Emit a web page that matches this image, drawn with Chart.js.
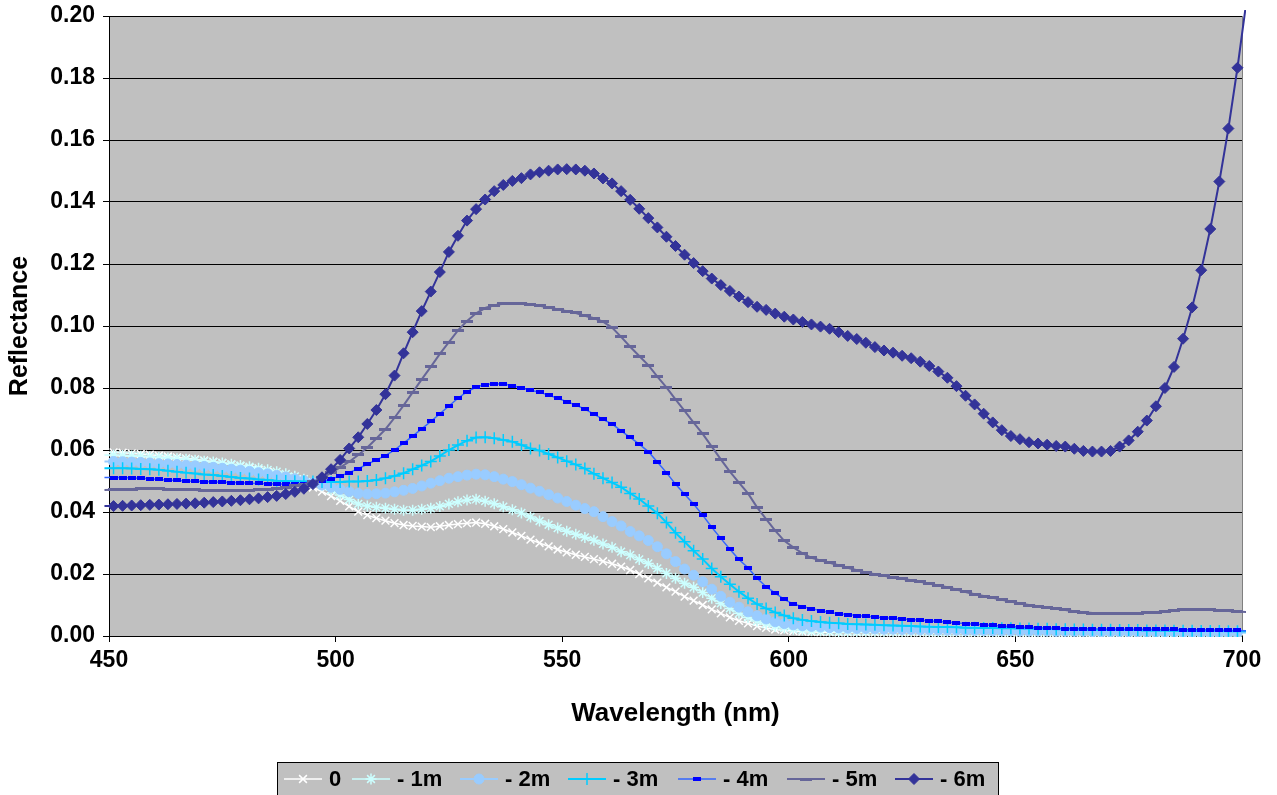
<!DOCTYPE html>
<html>
<head>
<meta charset="utf-8">
<title>Reflectance by depth</title>
<script src="https://cdn.jsdelivr.net/npm/chart.js@4.4.1/dist/chart.umd.min.js"></script>
<style>
  html, body { margin: 0; padding: 0; background: #fff; }
  #wrap { width: 1277px; height: 795px; }
</style>
</head>
<body>
<div id="wrap"><canvas id="chart" width="1277" height="795"></canvas></div>
<script>
// wavelength samples (nm), every 2 nm; the end points sit just outside the axis
const wavelengths = [
  449, 451, 453, 455, 457, 459, 461, 463, 465, 467,
  469, 471, 473, 475, 477, 479, 481, 483, 485, 487,
  489, 491, 493, 495, 497, 499, 501, 503, 505, 507,
  509, 511, 513, 515, 517, 519, 521, 523, 525, 527,
  529, 531, 533, 535, 537, 539, 541, 543, 545, 547,
  549, 551, 553, 555, 557, 559, 561, 563, 565, 567,
  569, 571, 573, 575, 577, 579, 581, 583, 585, 587,
  589, 591, 593, 595, 597, 599, 601, 603, 605, 607,
  609, 611, 613, 615, 617, 619, 621, 623, 625, 627,
  629, 631, 633, 635, 637, 639, 641, 643, 645, 647,
  649, 651, 653, 655, 657, 659, 661, 663, 665, 667,
  669, 671, 673, 675, 677, 679, 681, 683, 685, 687,
  689, 691, 693, 695, 697, 699, 701
];

const seriesNames = ['0', '- 1m', '- 2m', '- 3m', '- 4m', '- 5m', '- 6m'];

const xTickValues = [450, 500, 550, 600, 650, 700];
const yTickValues = [0, 0.02, 0.04, 0.06, 0.08, 0.10, 0.12, 0.14, 0.16, 0.18, 0.20];

const refl0 = [
  0.0593,
  0.0592, 0.0591, 0.0589, 0.0587, 0.0585, 0.0582, 0.0579, 0.0576, 0.0573, 0.0570,
  0.0566, 0.0562, 0.0558, 0.0553, 0.0548, 0.0542, 0.0536, 0.0529, 0.0521, 0.0512,
  0.0502, 0.0491, 0.0479, 0.0466, 0.0451, 0.0436,
  0.0418, 0.0401, 0.0390, 0.0380, 0.0372, 0.0364, 0.0358, 0.0355, 0.0353, 0.0351,
  0.0354, 0.0358, 0.0361, 0.0364, 0.0366, 0.0362, 0.0354, 0.0345, 0.0334, 0.0323,
  0.0311, 0.0300, 0.0289, 0.0279, 0.0270, 0.0262, 0.0255, 0.0248, 0.0241, 0.0233,
  0.0224, 0.0213, 0.0200, 0.0186, 0.0172, 0.0157, 0.0143, 0.0127, 0.0114, 0.0100,
  0.0086, 0.0073, 0.0060, 0.0049, 0.0041, 0.0032, 0.0026, 0.0021, 0.0018, 0.0016,
  0.0014, 0.0013, 0.0012, 0.0012,
  0.0011, 0.0011, 0.0011, 0.0011, 0.0011, 0.0011, 0.0011, 0.0011, 0.0011, 0.0011,
  0.0010, 0.0010, 0.0010, 0.0010, 0.0010, 0.0010, 0.0010, 0.0010, 0.0010, 0.0010,
  0.0009, 0.0009, 0.0009, 0.0009, 0.0009, 0.0009, 0.0009, 0.0009,
  0.0008, 0.0008, 0.0008, 0.0008, 0.0008, 0.0008, 0.0008, 0.0008,
  0.0007, 0.0007, 0.0007, 0.0007, 0.0007,
  0.0006, 0.0006, 0.0006, 0.0006, 0.0006
];

const refl1m = [
  0.0584,
  0.0583, 0.0582, 0.0581, 0.0580, 0.0578, 0.0576, 0.0574, 0.0572, 0.0570, 0.0567,
  0.0564, 0.0561, 0.0558, 0.0554, 0.0550, 0.0546, 0.0541, 0.0536, 0.0530, 0.0523,
  0.0515, 0.0506, 0.0496, 0.0485, 0.0471, 0.0455,
  0.0440, 0.0426, 0.0419, 0.0415, 0.0412, 0.0409, 0.0406, 0.0406, 0.0409, 0.0412,
  0.0418, 0.0426, 0.0433, 0.0439, 0.0441, 0.0435, 0.0427, 0.0417, 0.0407, 0.0397,
  0.0384, 0.0371, 0.0359, 0.0348, 0.0338, 0.0328, 0.0318, 0.0309, 0.0297, 0.0286,
  0.0272, 0.0261, 0.0247, 0.0234, 0.0218, 0.0202, 0.0186, 0.0170, 0.0157, 0.0140,
  0.0122, 0.0105, 0.0089, 0.0073, 0.0060, 0.0048, 0.0039, 0.0031, 0.0026, 0.0022,
  0.0019, 0.0017, 0.0016, 0.0015,
  0.0014, 0.0014, 0.0014, 0.0014, 0.0014, 0.0014, 0.0014, 0.0014, 0.0014, 0.0014,
  0.0013, 0.0013, 0.0013, 0.0013, 0.0013, 0.0013, 0.0013, 0.0013,
  0.0012, 0.0012, 0.0012, 0.0012, 0.0012, 0.0012, 0.0012, 0.0012,
  0.0011, 0.0011, 0.0011, 0.0011, 0.0011, 0.0011, 0.0011, 0.0011,
  0.0010, 0.0010, 0.0010, 0.0010, 0.0010, 0.0010,
  0.0009, 0.0009, 0.0009, 0.0009, 0.0009, 0.0009
];

const refl2m = [
  0.0563,
  0.0563, 0.0562, 0.0561, 0.0560, 0.0558, 0.0556, 0.0555, 0.0553, 0.0551, 0.0549,
  0.0547, 0.0544, 0.0541, 0.0538, 0.0535, 0.0531, 0.0527, 0.0523, 0.0518, 0.0513,
  0.0507, 0.0501, 0.0494, 0.0487, 0.0480, 0.0473,
  0.0466, 0.0460, 0.0458, 0.0459, 0.0461, 0.0465, 0.0470, 0.0476, 0.0484, 0.0493,
  0.0501, 0.0509, 0.0514, 0.0519, 0.0522, 0.0520, 0.0514, 0.0506, 0.0498, 0.0488,
  0.0477, 0.0467, 0.0456, 0.0445, 0.0434, 0.0422, 0.0411, 0.0401, 0.0385, 0.0369,
  0.0355, 0.0337, 0.0323, 0.0308, 0.0288, 0.0265, 0.0240, 0.0216, 0.0196, 0.0175,
  0.0151, 0.0128, 0.0109, 0.0093, 0.0078, 0.0065, 0.0055, 0.0046, 0.0040, 0.0036,
  0.0033, 0.0031, 0.0029, 0.0027,
  0.0026, 0.0025, 0.0024, 0.0024, 0.0023, 0.0022, 0.0022, 0.0021, 0.0021, 0.0020,
  0.0020, 0.0019, 0.0019, 0.0019, 0.0018, 0.0018, 0.0018, 0.0017, 0.0017, 0.0017,
  0.0016, 0.0016, 0.0016, 0.0016, 0.0015, 0.0015, 0.0015, 0.0015, 0.0014, 0.0014,
  0.0014, 0.0014, 0.0014, 0.0013, 0.0013, 0.0013, 0.0013, 0.0013, 0.0012, 0.0012,
  0.0012, 0.0012, 0.0012, 0.0012, 0.0012, 0.0011
];

const refl3m = [
  0.0541,
  0.0541, 0.0541, 0.0540, 0.0539, 0.0538, 0.0536, 0.0533, 0.0530, 0.0527, 0.0524,
  0.0521, 0.0519, 0.0516, 0.0513, 0.0510, 0.0508, 0.0505, 0.0503, 0.0501, 0.0500,
  0.0499, 0.0498, 0.0498, 0.0497, 0.0497, 0.0497,
  0.0498, 0.0498, 0.0500, 0.0503, 0.0509, 0.0516, 0.0525, 0.0538, 0.0550, 0.0563,
  0.0581, 0.0600, 0.0616, 0.0630, 0.0640, 0.0641, 0.0638, 0.0632, 0.0627, 0.0616,
  0.0605, 0.0598, 0.0587, 0.0576, 0.0564, 0.0553, 0.0540, 0.0523, 0.0509, 0.0495,
  0.0480, 0.0460, 0.0442, 0.0419, 0.0396, 0.0366, 0.0333, 0.0304, 0.0275, 0.0248,
  0.0218, 0.0191, 0.0167, 0.0143, 0.0122, 0.0103, 0.0089, 0.0076, 0.0066, 0.0057,
  0.0052, 0.0048, 0.0045, 0.0043,
  0.0041, 0.0039, 0.0038, 0.0037, 0.0036, 0.0035, 0.0034, 0.0033, 0.0032, 0.0031,
  0.0030, 0.0029, 0.0029, 0.0028, 0.0027, 0.0027, 0.0026, 0.0026, 0.0025, 0.0025,
  0.0024, 0.0024, 0.0023, 0.0023, 0.0022, 0.0022, 0.0021, 0.0021, 0.0020, 0.0020,
  0.0020, 0.0019, 0.0019, 0.0019, 0.0018, 0.0018, 0.0018, 0.0017, 0.0017, 0.0017,
  0.0016, 0.0016, 0.0016, 0.0015, 0.0015, 0.0015
];

const refl4m = [
  0.0511,
  0.0511, 0.0511, 0.0510, 0.0509, 0.0507, 0.0505, 0.0503, 0.0502, 0.0500, 0.0499,
  0.0498, 0.0497, 0.0496, 0.0495, 0.0494, 0.0493, 0.0492, 0.0491, 0.0490, 0.0490,
  0.0490, 0.0491, 0.0494, 0.0499, 0.0506, 0.0516,
  0.0527, 0.0540, 0.0554, 0.0568, 0.0582, 0.0600, 0.0622, 0.0645, 0.0668, 0.0692,
  0.0717, 0.0742, 0.0767, 0.0788, 0.0803, 0.0811, 0.0814, 0.0813, 0.0808, 0.0800,
  0.0793, 0.0786, 0.0777, 0.0767, 0.0756, 0.0745, 0.0732, 0.0716, 0.0699, 0.0684,
  0.0662, 0.0641, 0.0619, 0.0595, 0.0561, 0.0527, 0.0490, 0.0457, 0.0426, 0.0390,
  0.0351, 0.0315, 0.0280, 0.0247, 0.0220, 0.0186, 0.0159, 0.0138, 0.0118, 0.0103,
  0.0095, 0.0088, 0.0082, 0.0076,
  0.0072, 0.0069, 0.0066, 0.0064, 0.0061, 0.0059, 0.0057, 0.0055, 0.0053, 0.0051,
  0.0049, 0.0047, 0.0045, 0.0042, 0.0040, 0.0038, 0.0036, 0.0034, 0.0032, 0.0031,
  0.0029, 0.0028, 0.0027, 0.0026, 0.0025, 0.0024, 0.0024, 0.0023, 0.0023, 0.0022,
  0.0022, 0.0022, 0.0022, 0.0022, 0.0022, 0.0021, 0.0021, 0.0021, 0.0020, 0.0020,
  0.0020, 0.0019, 0.0019, 0.0018, 0.0018, 0.0017
];

const refl5m = [
  0.0471,
  0.0472, 0.0473, 0.0474, 0.0475, 0.0475, 0.0475, 0.0474, 0.0473, 0.0472, 0.0471,
  0.0470, 0.0470, 0.0469, 0.0469, 0.0469, 0.0470, 0.0471, 0.0473, 0.0476, 0.0479,
  0.0484, 0.0490, 0.0498, 0.0510, 0.0526, 0.0544,
  0.0562, 0.0584, 0.0608, 0.0637, 0.0667, 0.0704, 0.0744, 0.0786, 0.0828, 0.0868,
  0.0910, 0.0948, 0.0986, 0.1016, 0.1041, 0.1058, 0.1067, 0.1072, 0.1074, 0.1073,
  0.1070, 0.1065, 0.1060, 0.1054, 0.1048, 0.1042, 0.1033, 0.1025, 0.1014, 0.0995,
  0.0965, 0.0933, 0.0903, 0.0874, 0.0837, 0.0802, 0.0763, 0.0726, 0.0688, 0.0652,
  0.0611, 0.0570, 0.0530, 0.0495, 0.0460, 0.0415, 0.0377, 0.0340, 0.0307, 0.0286,
  0.0267, 0.0252, 0.0244, 0.0236,
  0.0228, 0.0220, 0.0212, 0.0205, 0.0199, 0.0194, 0.0189, 0.0185, 0.0180, 0.0175,
  0.0169, 0.0163, 0.0157, 0.0150, 0.0142, 0.0135, 0.0129, 0.0123, 0.0117, 0.0111,
  0.0105, 0.0100, 0.0096, 0.0092, 0.0088, 0.0084, 0.0080, 0.0077, 0.0074, 0.0072,
  0.0071, 0.0071, 0.0072, 0.0073, 0.0075, 0.0077, 0.0080, 0.0083, 0.0085, 0.0086,
  0.0086, 0.0085, 0.0083, 0.0081, 0.0079, 0.0077
];

const refl6m = [
  0.0419,
  0.0419, 0.0420, 0.0421, 0.0422, 0.0423, 0.0424, 0.0425, 0.0426, 0.0427, 0.0428,
  0.0430, 0.0432, 0.0434, 0.0436, 0.0438, 0.0441, 0.0444, 0.0448, 0.0452, 0.0458,
  0.0465, 0.0475, 0.0490, 0.0512, 0.0538, 0.0568,
  0.0605, 0.0641, 0.0684, 0.0729, 0.0780, 0.0840, 0.0912, 0.0980, 0.1048, 0.1111,
  0.1174, 0.1239, 0.1291, 0.1340, 0.1377, 0.1408, 0.1435, 0.1455, 0.1468, 0.1477,
  0.1489, 0.1496, 0.1501, 0.1505, 0.1506, 0.1505, 0.1501, 0.1492, 0.1476, 0.1460,
  0.1435,
  0.1407, 0.1378, 0.1348, 0.1318, 0.1288, 0.1258, 0.1230, 0.1203,
  0.1177, 0.1153, 0.1132, 0.1113, 0.1095, 0.1077, 0.1062, 0.1052, 0.1040, 0.1030,
  0.1021, 0.1013, 0.1005, 0.0998, 0.0991, 0.0980, 0.0968, 0.0958, 0.0946, 0.0932,
  0.0921, 0.0914, 0.0904, 0.0896, 0.0885, 0.0871, 0.0853, 0.0833, 0.0806, 0.0775,
  0.0747, 0.0717, 0.0689,
  0.0664, 0.0645, 0.0635, 0.0625, 0.0621, 0.0617, 0.0613, 0.0611, 0.0604, 0.0597,
  0.0595, 0.0595, 0.0597, 0.0611, 0.0631, 0.0659, 0.0695, 0.0741, 0.0800, 0.0868,
  0.0959, 0.1060, 0.1180, 0.1313, 0.1466, 0.1637, 0.1833,
  0.2050
];

const allSeries = [refl0, refl1m, refl2m, refl3m, refl4m, refl5m, refl6m];
allSeries.forEach((arr, i) => {
  if (arr.length !== wavelengths.length) {
    throw new Error('series ' + seriesNames[i] + ' has ' + arr.length + ' values, expected ' + wavelengths.length);
  }
});

// small bitmap markers for the two "dash" styles Excel uses
function dashMarker(w, h, color) {
  const c = document.createElement('canvas');
  c.width = w;
  c.height = h;
  const g = c.getContext('2d');
  g.fillStyle = color;
  g.fillRect(0, 0, w, h);
  return c;
}

const FONT = '"Liberation Sans", Arial, sans-serif';

const styles = [
  { line: '#ffffff', width: 1.5, marker: 'crossRot', fill: '#ffffff', edge: '#ffffff', radius: 5.5, edgeWidth: 1.5 },
  { line: '#ccffff', width: 1.5, marker: 'star', fill: '#ccffff', edge: '#ccffff', radius: 5.5, edgeWidth: 1.5 },
  { line: '#99ccff', width: 2, marker: 'circle', fill: '#99ccff', edge: '#99ccff', radius: 5, edgeWidth: 1 },
  { line: '#00ccff', width: 2, marker: 'cross', fill: '#00ccff', edge: '#00ccff', radius: 6, edgeWidth: 1.5 },
  { line: '#3366ff', width: 1.5, marker: dashMarker(8, 4, '#0000ff'), fill: '#0000ff', edge: '#0000ff', radius: 4, edgeWidth: 1 },
  { line: '#666699', width: 2, marker: dashMarker(12, 3, '#666699'), fill: '#666699', edge: '#666699', radius: 5, edgeWidth: 1 },
  { line: '#333399', width: 2, marker: 'rectRot', fill: '#333399', edge: '#333399', radius: 5.5, edgeWidth: 1 }
];

const datasets = allSeries.map((vals, i) => {
  const st = styles[i];
  return {
    label: seriesNames[i],
    data: wavelengths.map((w, k) => ({ x: w, y: vals[k] })),
    borderColor: st.line,
    borderWidth: st.width,
    tension: 0,
    pointStyle: st.marker,
    pointBackgroundColor: st.fill,
    pointBorderColor: st.edge,
    pointBorderWidth: st.edgeWidth,
    // no marker on the samples that fall outside 450-700
    pointRadius: ctx => (ctx.raw && (ctx.raw.x < 450 || ctx.raw.x > 700)) ? 0 : st.radius,
    pointHoverRadius: st.radius,
    clip: { left: 6, top: 6, right: 4, bottom: 1 },
    order: 6 - i
  };
});

const plotBg = {
  id: 'plotBg',
  beforeDraw(chart) {
    const { ctx, chartArea: a } = chart;
    ctx.save();
    ctx.fillStyle = '#ffffff';
    ctx.fillRect(0, 0, chart.width, chart.height);
    ctx.fillStyle = '#c0c0c0';
    ctx.fillRect(a.left, a.top, a.right - a.left, a.bottom - a.top);
    ctx.strokeStyle = '#808080';
    ctx.lineWidth = 1;
    ctx.strokeRect(a.left + 0.5, a.top + 0.5, a.right - a.left, a.bottom - a.top);
    ctx.restore();
  }
};

// Excel style legend: line sample + marker + label, inside a grey box
const legendX = [284, 352, 460, 568, 678, 787, 895];
const legendBox = {
  id: 'legendBox',
  afterDraw(chart) {
    const ctx = chart.ctx;
    const y = 779;
    ctx.save();
    ctx.fillStyle = '#c0c0c0';
    ctx.fillRect(277, 762, 721, 40);
    ctx.strokeStyle = '#000000';
    ctx.lineWidth = 1;
    ctx.strokeRect(277.5, 762.5, 721, 40);
    chart.data.datasets.forEach((ds, i) => {
      const st = styles[i];
      const x0 = legendX[i];
      ctx.strokeStyle = st.line;
      ctx.lineWidth = st.width;
      ctx.beginPath();
      ctx.moveTo(x0, y);
      ctx.lineTo(x0 + 38, y);
      ctx.stroke();
      ctx.fillStyle = st.fill;
      ctx.strokeStyle = st.edge;
      ctx.lineWidth = st.edgeWidth;
      Chart.helpers.drawPoint(ctx, { pointStyle: st.marker, radius: st.radius, borderWidth: st.edgeWidth, rotation: 0 }, x0 + 19, y);
      ctx.fillStyle = '#000000';
      ctx.font = 'bold 22px ' + FONT;
      ctx.textAlign = 'left';
      ctx.textBaseline = 'middle';
      ctx.fillText(ds.label, x0 + 45, y + 1);
    });
    ctx.restore();
  }
};

new Chart(document.getElementById('chart'), {
  type: 'line',
  data: { datasets },
  options: {
    responsive: false,
    animation: false,
    devicePixelRatio: 1,
    layout: { padding: { top: 16, right: 35, bottom: 59, left: 0 } },
    plugins: {
      legend: { display: false },
      tooltip: { enabled: false }
    },
    scales: {
      x: {
        type: 'linear',
        min: 450,
        max: 700,
        afterBuildTicks: s => { s.ticks = xTickValues.map(v => ({ value: v })); },
        afterFit: s => { s.height = 100; s.paddingLeft = 0; s.paddingRight = 0; },
        grid: { drawOnChartArea: false, color: '#000000', tickLength: 6 },
        border: { color: '#000000', width: 1 },
        ticks: {
          color: '#000000',
          padding: 5,
          maxRotation: 0,
          font: { family: FONT, size: 23, weight: 'bold' }
        },
        title: {
          display: true,
          text: 'Wavelength (nm)',
          color: '#000000',
          padding: { top: 0, bottom: 7 },
          font: { family: FONT, size: 26, weight: 'bold' }
        }
      },
      y: {
        min: 0,
        max: 0.2,
        afterBuildTicks: s => { s.ticks = yTickValues.map(v => ({ value: v })); },
        afterFit: s => { s.width = 109; s.paddingTop = 0; s.paddingBottom = 0; },
        grid: { color: '#000000', tickLength: 6 },
        border: { color: '#000000', width: 1 },
        ticks: {
          color: '#000000',
          padding: 8,
          callback: v => Number(v).toFixed(2),
          font: { family: FONT, size: 23, weight: 'bold' }
        },
        title: {
          display: true,
          text: 'Reflectance',
          color: '#000000',
          padding: { top: 5, bottom: 0 },
          font: { family: FONT, size: 25, weight: 'bold' }
        }
      }
    }
  },
  plugins: [plotBg, legendBox]
});
</script>
</body>
</html>
